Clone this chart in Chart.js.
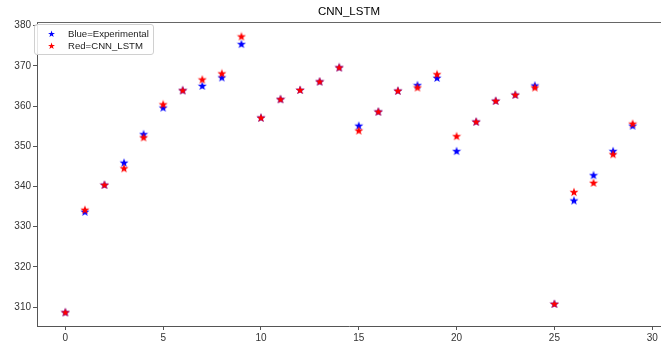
<!DOCTYPE html>
<html>
<head>
<meta charset="utf-8">
<script src="https://cdn.jsdelivr.net/npm/chart.js@4/dist/chart.umd.min.js"></script>
<style>
  body { margin: 0; background: #fff; }
  #wrap { position: relative; width: 661px; height: 346px; }
  #legend {
    position: absolute; left: 34px; top: 24px; width: 118px; height: 29px;
    border: 1px solid #d0d0d0; border-radius: 3px; background: rgba(255,255,255,0.85);
    font-family: "Liberation Sans", sans-serif; font-size: 9.6px; color: #222;
  }
  #legend div { position: absolute; left: 0; height: 12px; line-height: 12px; white-space: nowrap; }
  #legend span.s { display: inline-block; width: 33px; text-align: center; font-family: "DejaVu Sans"; font-size: 9px; }
</style>
</head>
<body>
<div id="wrap">
  <canvas id="chart" width="661" height="346"></canvas>
  <div id="legend">
    <div style="top:3px"><span class="s" style="color:#0000ff">★</span>Blue=Experimental</div>
    <div style="top:15px"><span class="s" style="color:#ff0000">★</span>Red=CNN_LSTM</div>
  </div>
</div>
<script>
const title = "CNN_LSTM";
const steps = [0,1,2,3,4,5,6,7,8,9,10,11,12,13,14,15,16,17,18,19,20,21,22,23,24,25,26,27,28,29];
const experimental = [308.7,333.7,340.4,345.9,353.0,359.6,363.9,365.0,367.1,375.4,357.1,361.7,364.0,366.1,369.6,355.1,358.6,363.8,365.2,367.0,348.8,356.1,361.3,362.8,365.1,310.8,336.5,342.8,348.8,355.1];
const cnnLstm = [308.7,334.2,340.4,344.5,352.2,360.4,363.9,366.6,368.1,377.3,357.1,361.7,364.0,366.1,369.6,353.9,358.6,363.8,364.6,367.9,352.5,356.1,361.3,362.8,364.6,310.8,338.6,340.9,348.0,355.6];
const xTicks = [0,5,10,15,20,25,30];
const yTicks = [310,320,330,340,350,360,370,380];

function starImage(color) {
  const c = document.createElement("canvas");
  c.width = 10; c.height = 10;
  const g = c.getContext("2d");
  g.fillStyle = color;
  g.beginPath();
  for (let i = 0; i < 10; i++) {
    const r = i % 2 === 0 ? 4.7 : 1.9;
    const a = -Math.PI / 2 + i * Math.PI / 5;
    const px = 5 + r * Math.cos(a), py = 5.3 + r * Math.sin(a);
    i === 0 ? g.moveTo(px, py) : g.lineTo(px, py);
  }
  g.closePath();
  g.fill();
  return c;
}

// top spine + title centred over the plot area
const frame = {
  id: "frame",
  afterDraw(chart) {
    const a = chart.chartArea, ctx = chart.ctx;
    ctx.save();
    ctx.strokeStyle = "#666";
    ctx.lineWidth = 1;
    ctx.beginPath();
    ctx.moveTo(a.left, a.top + 0.5);
    ctx.lineTo(a.right, a.top + 0.5);
    ctx.stroke();
    ctx.fillStyle = "#000";
    ctx.font = "11.5px 'Liberation Sans'";
    ctx.textAlign = "center";
    ctx.textBaseline = "middle";
    ctx.fillText(title, (a.left + a.right) / 2, 12);
    ctx.restore();
  }
};

new Chart(document.getElementById("chart"), {
  type: "scatter",
  data: {
    datasets: [
      { label: "Blue=Experimental", data: steps.map((x, i) => ({ x: x, y: experimental[i] })),
        pointStyle: starImage("#0000ff"), order: 2 },
      { label: "Red=CNN_LSTM", data: steps.map((x, i) => ({ x: x, y: cnnLstm[i] })),
        pointStyle: starImage("#ff0000"), order: 1 }
    ]
  },
  options: {
    responsive: false,
    animation: false,
    layout: { autoPadding: false, padding: { top: 22, right: 0, bottom: 0, left: 0 } },
    plugins: { legend: { display: false }, tooltip: { enabled: false } },
    scales: {
      x: {
        type: "linear", min: -1.45, max: 30.45,
        afterBuildTicks: s => { s.ticks = xTicks.map(v => ({ value: v })); },
        afterFit: s => { s.height = 20; s.paddingLeft = 0; s.paddingRight = 0; },
        grid: { drawOnChartArea: false, tickLength: 4, color: "#555" },
        border: { color: "#555" },
        ticks: { color: "#333", font: { family: "Liberation Sans", size: 10 }, padding: 2, maxRotation: 0 }
      },
      y: {
        min: 305.3, max: 380.9,
        afterBuildTicks: s => { s.ticks = yTicks.map(v => ({ value: v })); },
        afterFit: s => { s.width = 37; s.paddingTop = 0; s.paddingBottom = 0; },
        grid: { drawOnChartArea: false, tickLength: 4, color: "#555" },
        border: { color: "#555" },
        ticks: { color: "#333", font: { family: "Liberation Sans", size: 10 }, padding: 2 }
      }
    }
  },
  plugins: [frame]
});
</script>
</body>
</html>
